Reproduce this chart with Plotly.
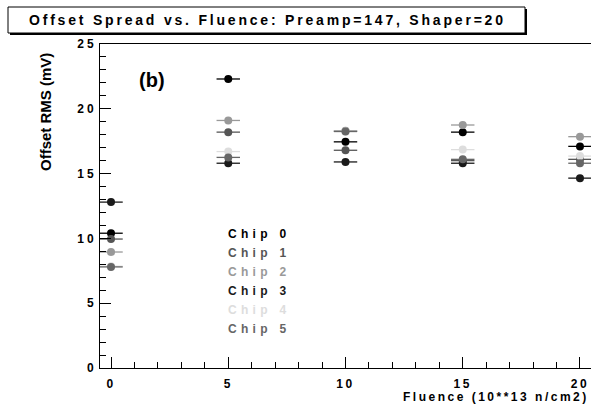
import plotly.graph_objects as go

# Datos
fluence = [0, 5, 10, 15, 20]
chip0 = [10.4, 22.3, 17.45, 18.2, 17.1]
chip1 = [9.95, 18.2, 16.8, 16.0, 16.1]
chip2 = [8.95, 19.1, 18.3, 18.75, 17.85]
chip3 = [12.8, 15.8, 15.9, 15.8, 14.65]
chip4 = [7.85, 16.7, 18.25, 16.85, 16.35]
chip5 = [7.8, 16.25, 18.25, 16.1, 15.8]
fluence_err = [0.5, 0.5, 0.5, 0.5, 0.5]

chips = [chip0, chip1, chip2, chip3, chip4, chip5]
names = ['Chip 0', 'Chip 1', 'Chip 2', 'Chip 3', 'Chip 4', 'Chip 5']
colores = ['#000000', '#555555', '#999999', '#1a1a1a', '#dddddd', '#666666']

W, H = 591, 405
L, R, T, B = 100, 0, 44, 37
pw, ph = W - L - R, H - T - B


def px(x):
    return (x - L) / pw


def py(y):
    return (H - B - y) / ph


def spaced(txt, sp):
    return f'<span style="letter-spacing:{sp}px">{txt}</span>'


fig = go.Figure()
for vals, name, col in zip(chips, names, colores):
    fig.add_trace(go.Scatter(
        x=fluence, y=vals, mode='markers', name=name,
        marker=dict(color=col, size=8),
        error_x=dict(type='data', array=fluence_err, color=col, thickness=1.3, width=0),
        showlegend=False
    ))

# Leyenda como texto coloreado
for i, (name, col) in enumerate(zip(names, colores)):
    fig.add_annotation(
        x=px(226), y=py(234 + i * 19), xref='paper', yref='paper',
        xanchor='left', yanchor='middle', showarrow=False,
        text=spaced('<b>' + name + '</b>', 4.3),
        font=dict(family='Liberation Sans', size=12, color=col)
    )

# Caja del titulo con sombra
fig.add_shape(type='rect', xref='paper', yref='paper',
              x0=px(10), x1=px(527), y0=py(35), y1=py(9),
              fillcolor='black', line=dict(width=0))
fig.add_shape(type='rect', xref='paper', yref='paper',
              x0=px(8), x1=px(525), y0=py(33), y1=py(7),
              fillcolor='white', line=dict(color='black', width=1))
fig.add_annotation(
    x=px(267), y=py(20), xref='paper', yref='paper',
    xanchor='center', yanchor='middle', showarrow=False,
    text=spaced('<b>Offset Spread vs. Fluence: Preamp=147, Shaper=20</b>', 2.8),
    font=dict(family='Liberation Sans', size=14, color='black')
)

fig.add_annotation(
    x=px(152), y=py(80), xref='paper', yref='paper',
    xanchor='center', yanchor='middle', showarrow=False, text='<b>(b)</b>',
    font=dict(family='Liberation Sans', size=20, color='black')
)
fig.add_annotation(
    x=px(45), y=py(112), xref='paper', yref='paper',
    xanchor='center', yanchor='middle', showarrow=False, textangle=-90,
    text='<b>Offset RMS (mV)</b>',
    font=dict(family='Liberation Sans', size=15, color='black')
)
fig.add_annotation(
    x=px(591), y=py(397), xref='paper', yref='paper',
    xanchor='right', yanchor='middle', showarrow=False,
    text=spaced('<b>Fluence (10**13 n/cm2)</b>', 2.5),
    font=dict(family='Liberation Sans', size=12, color='black')
)

xt = [0, 5, 10, 15, 20]
yt = [0, 5, 10, 15, 20, 25]
fig.update_xaxes(
    range=[-0.47, 20.47], showgrid=False, zeroline=False,
    showline=True, linecolor='black', linewidth=1, mirror=True,
    ticks='inside', ticklen=11, tickcolor='black', ticklabelstandoff=5,
    tickvals=xt, ticktext=[spaced('<b>%d</b>' % v, 2.5) for v in xt],
    tickfont=dict(family='Liberation Sans', size=12, color='black'),
    minor=dict(dtick=1, ticks='inside', ticklen=6, tickcolor='black')
)
fig.update_yaxes(
    range=[0, 25], showgrid=False, zeroline=False,
    showline=True, linecolor='black', linewidth=1,
    ticks='inside', ticklen=11, tickcolor='black',
    tickvals=yt, ticktext=[spaced('<b>%d</b>' % v, 3) for v in yt],
    tickfont=dict(family='Liberation Sans', size=12, color='black'),
    minor=dict(dtick=1, ticks='inside', ticklen=6, tickcolor='black')
)
fig.update_layout(
    width=W, height=H, margin=dict(l=L, r=R, t=T, b=B),
    paper_bgcolor='white', plot_bgcolor='white'
)
fig.write_html('out.html', config={'displayModeBar': False},
               post_script="document.body.style.margin='0';document.body.style.padding='0';")
